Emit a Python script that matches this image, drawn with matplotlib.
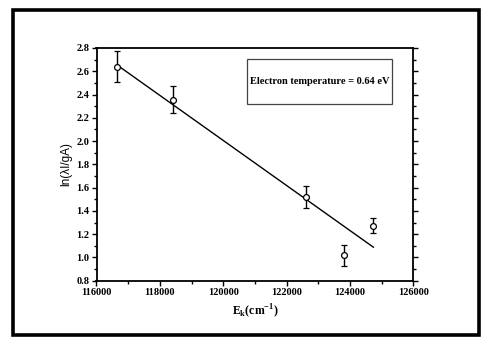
import matplotlib.pyplot as plt
from matplotlib.patches import Rectangle
from matplotlib.ticker import MultipleLocator

# data
energy = [116650, 118400, 122610, 123810, 124720]
ln_int = [2.64, 2.356, 1.52, 1.02, 1.273]
err = [0.13, 0.118, 0.096, 0.09, 0.063]

# fitted line end points
fit_x = [116680, 124740]
fit_y = [2.648, 1.088]

box_text = "Electron temperature = 0.64 eV"

serif = ['Liberation Serif', 'DejaVu Serif']
sans = ['Liberation Sans', 'DejaVu Sans']

fig = plt.figure(figsize=(4.87, 3.51), dpi=100)
ax = fig.add_axes([96.5 / 487, 1 - 280.7 / 351, (413.3 - 96.5) / 487, (280.7 - 48) / 351])

# outer frame
fig.patches.append(Rectangle((12.5 / 487, 1 - 335 / 351), (478.5 - 12.5) / 487, (335 - 9.5) / 351,
                             transform=fig.transFigure, fill=False, edgecolor='black', linewidth=2.6))

ax.plot(fit_x, fit_y, color='black', linewidth=1.0)
ax.errorbar(energy, ln_int, yerr=err, fmt='o', markersize=4.2, markerfacecolor='white',
            markeredgecolor='black', markeredgewidth=0.9, ecolor='black', elinewidth=1.0,
            capsize=2.5, capthick=1.0)

ax.set_xlim(116000, 126000)
ax.set_ylim(0.8, 2.8)
ax.xaxis.set_major_locator(MultipleLocator(2000))
ax.xaxis.set_minor_locator(MultipleLocator(1000))
ax.yaxis.set_major_locator(MultipleLocator(0.2))
ax.yaxis.set_minor_locator(MultipleLocator(0.1))
ax.yaxis.set_major_formatter(plt.FormatStrFormatter('%.1f'))

for s in ax.spines.values():
    s.set_linewidth(1.3)
ax.tick_params(which='both', direction='out', right=True, width=1.0)
ax.tick_params(which='major', length=3.5, labelsize=7.5, pad=1.5)
ax.tick_params(which='minor', length=2)
for lab in ax.get_xticklabels() + ax.get_yticklabels():
    lab.set_family(serif)
    lab.set_fontweight('bold')

ax.set_xlabel(r'E$_\mathregular{k}$(cm$^\mathregular{-1}$)', family=serif, fontweight='bold',
              fontsize=8.5, labelpad=4)
ax.set_ylabel('ln(λI/gA)', family=sans, fontsize=8.5, labelpad=3)

ax.add_patch(Rectangle((0.474, 0.759), 0.46, 0.192, transform=ax.transAxes, fill=False,
                       edgecolor='#444444', linewidth=0.9))
ax.text(0.704, 0.855, box_text, transform=ax.transAxes, ha='center', va='center',
        family=serif, fontweight='bold', fontsize=7.5)

fig.savefig('out.png', dpi=100)
